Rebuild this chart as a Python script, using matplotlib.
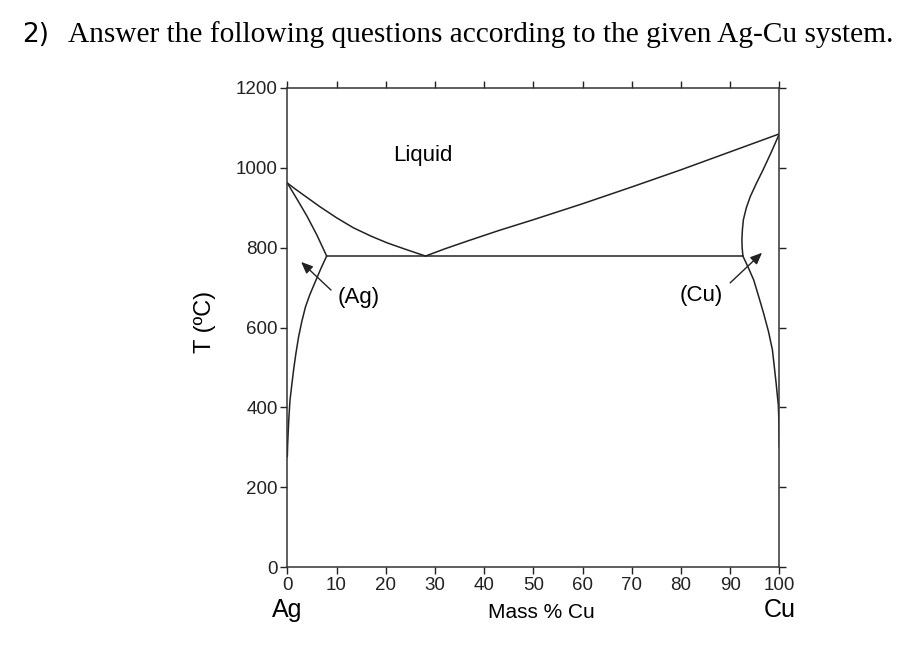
import matplotlib
matplotlib.use('Agg')
import matplotlib.pyplot as plt

# Ag-Cu phase diagram (mass % Cu, T in C)
liq_ag_x = [0, 1.5, 3.3, 5, 6.7, 10, 13.4, 17, 20.3, 24, 27.6, 28.1]
liq_ag_t = [962, 948, 932, 917, 902, 875, 850, 829, 812, 796, 781, 779]
liq_cu_x = [28.1, 32, 36.7, 43, 50, 60, 70, 80, 90, 100]
liq_cu_t = [779, 797, 817, 843, 870, 910, 952, 995, 1040, 1085]
sol_ag_x = [0, 2, 4, 6, 8.0]
sol_ag_t = [962, 921, 879, 832, 779]
solv_ag_x = [8.0, 6.8, 5.7, 4.6, 3.7, 2.95, 2.3, 1.75, 1.28, 0.9, 0.55, 0.35, 0.2, 0.08, 0]
solv_ag_t = [779, 747, 715, 683, 652, 615, 577, 535, 494, 455, 418, 380, 343, 310, 276]
sol_cu_x = [100, 98.4, 96.7, 95.3, 94.1, 93.3, 92.7, 92.5, 92.4, 92.45, 92.6]
sol_cu_t = [1085, 1040, 995, 960, 928, 900, 870, 845, 820, 800, 779]
solv_cu_x = [92.6, 93.7, 94.8, 95.8, 96.8, 97.8, 98.6, 99.0, 99.35, 99.6, 99.8, 99.93, 100]
solv_cu_t = [779, 750, 719, 678, 636, 590, 544, 500, 461, 430, 406, 360, 300]
eut_x = [8.0, 92.6]
eut_t = [779, 779]

xticks = [0, 10, 20, 30, 40, 50, 60, 70, 80, 90, 100]
yticks = [0, 200, 400, 600, 800, 1000, 1200]

fig = plt.figure(figsize=(9.24, 6.53), dpi=100)
ax = fig.add_axes([287.3 / 924, 1 - 567 / 653, 492 / 924, 479 / 653])

lw = 1.1
for xs, ts in [(liq_ag_x, liq_ag_t), (liq_cu_x, liq_cu_t), (sol_ag_x, sol_ag_t),
               (solv_ag_x, solv_ag_t), (sol_cu_x, sol_cu_t), (solv_cu_x, solv_cu_t),
               (eut_x, eut_t)]:
    ax.plot(xs, ts, color='#222222', lw=lw, solid_capstyle='round', solid_joinstyle='round')

ax.set_xlim(0, 100)
ax.set_ylim(0, 1200)
ax.set_xticks(xticks)
ax.set_yticks(yticks)
ax.tick_params(direction='out', length=5, width=1, top=True, right=True,
               labelsize=13.5, pad=2, colors='#222222', labelcolor='#222222')
for s in ax.spines.values():
    s.set_linewidth(1.1)
    s.set_color('#333333')

tf = 'Liberation Sans'
for lab in ax.get_xticklabels() + ax.get_yticklabels():
    lab.set_family(tf)

ax.text(27.6, 1032, 'Liquid', fontsize=16, family=tf, ha='center', va='center')
ax.text(10.3, 674, '(Ag)', fontsize=16, family=tf, ha='left', va='center')
ax.text(84.2, 679, '(Cu)', fontsize=16, family=tf, ha='center', va='center')
ax.annotate('', xy=(2.4, 769), xytext=(9.3, 689),
            arrowprops=dict(arrowstyle='-|>,head_length=0.7,head_width=0.3', color='#222222', lw=1))
ax.annotate('', xy=(96.9, 792), xytext=(89.6, 707),
            arrowprops=dict(arrowstyle='-|>,head_length=0.7,head_width=0.3', color='#222222', lw=1))

fig.text(287 / 924, 1 - 610 / 653, 'Ag', fontsize=18, family=tf, ha='center', va='center')
fig.text(780 / 924, 1 - 610 / 653, 'Cu', fontsize=18, family=tf, ha='center', va='center')
fig.text(541 / 924, 1 - 612 / 653, 'Mass % Cu', fontsize=15, family=tf, ha='center', va='center')
fig.text(205 / 924, 1 - 322 / 653, 'T (ºC)', fontsize=17, family=tf, rotation=90,
         ha='center', va='center')

fig.text(22 / 924, 1 - 35 / 653, '2)', fontsize=19, family='DejaVu Sans',
         ha='left', va='center')
fig.text(68 / 924, 1 - 35 / 653, 'Answer the following questions according to the given Ag-Cu system.',
         fontsize=21.2, family='Liberation Serif', ha='left', va='center')

fig.savefig('out.png', dpi=100, facecolor='white')
